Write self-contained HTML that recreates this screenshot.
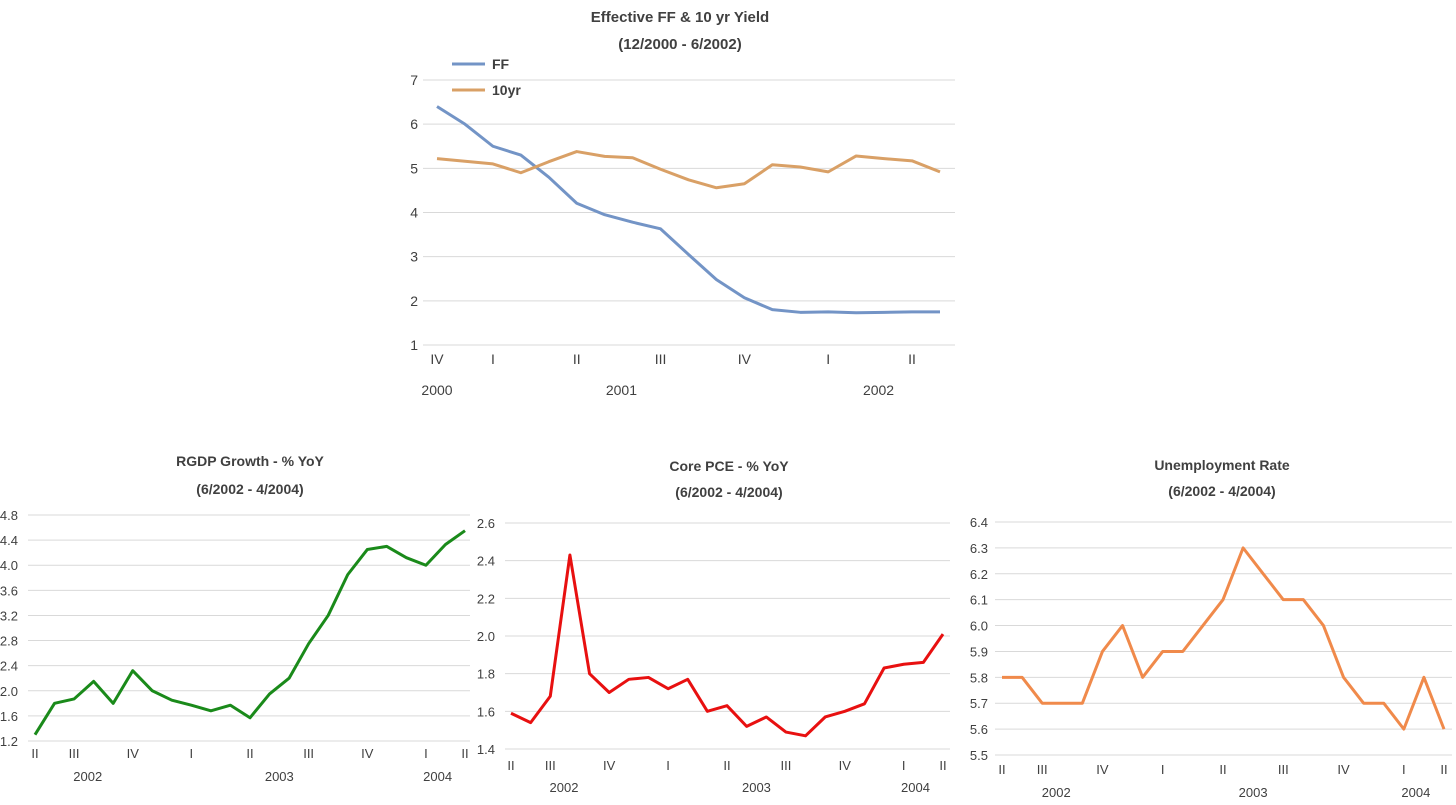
<!DOCTYPE html>
<html><head><meta charset="utf-8"><style>
body{margin:0;background:#fff;}
svg text{font-family:"Liberation Sans",sans-serif;fill:#404040;}
</style></head><body>
<svg id="s" width="1456" height="800" xmlns="http://www.w3.org/2000/svg">
<text x="680" y="22" text-anchor="middle" font-size="15" font-weight="bold" fill="#222">Effective FF &amp; 10 yr Yield</text>
<text x="680" y="49" text-anchor="middle" font-size="15" font-weight="bold" fill="#222">(12/2000 - 6/2002)</text>
<line x1="452" y1="64" x2="485" y2="64" stroke="#7394c6" stroke-width="3"/>
<text x="492" y="69" font-size="14" font-weight="bold" fill="#222">FF</text>
<line x1="452" y1="90" x2="485" y2="90" stroke="#d9a066" stroke-width="3"/>
<text x="492" y="95" font-size="14" font-weight="bold" fill="#222">10yr</text>
</svg>
<script>
const ffValues=[6.4,6.0,5.5,5.3,4.8,4.21,3.95,3.78,3.63,3.05,2.48,2.07,1.8,1.74,1.75,1.73,1.74,1.75,1.75];
const tenYrValues=[5.22,5.16,5.1,4.9,5.15,5.38,5.27,5.24,4.98,4.74,4.56,4.65,5.08,5.03,4.92,5.28,5.22,5.17,4.92];
const topYTicks=[1,2,3,4,5,6,7];
const rgdpValues=[1.3,1.8,1.87,2.15,1.8,2.32,2.0,1.85,1.77,1.68,1.77,1.57,1.95,2.2,2.75,3.2,3.85,4.25,4.3,4.12,4.0,4.33,4.55];
const rgdpYTicks=[1.2,1.6,2.0,2.4,2.8,3.2,3.6,4.0,4.4,4.8];
const pceValues=[1.59,1.54,1.68,2.43,1.8,1.7,1.77,1.78,1.72,1.77,1.6,1.63,1.52,1.57,1.49,1.47,1.57,1.6,1.64,1.83,1.85,1.86,2.01];
const pceYTicks=[1.4,1.6,1.8,2.0,2.2,2.4,2.6];
const unempValues=[5.8,5.8,5.7,5.7,5.7,5.9,6.0,5.8,5.9,5.9,6.0,6.1,6.3,6.2,6.1,6.1,6.0,5.8,5.7,5.7,5.6,5.8,5.6];
const unempYTicks=[5.5,5.6,5.7,5.8,5.9,6.0,6.1,6.2,6.3,6.4];
const topQuarters=["IV","I","II","III","IV","I","II"];
const topQuarterIdx=[0,2,5,8,11,14,17];
const topYears=["2000","2001","2002"];
const topYearIdx=[0,6.6,15.8];
const botQuarters=["II","III","IV","I","II","III","IV","I","II"];
const botQuarterIdx=[0,2,5,8,11,14,17,20,22];
const botYears=["2002","2003","2004"];
const botYearIdx=[2.7,12.5,20.6];

const svg=document.getElementById('s');
const NS='http://www.w3.org/2000/svg';
function mk(tag,attrs){const e=document.createElementNS(NS,tag);for(const k in attrs)e.setAttribute(k,attrs[k]);svg.appendChild(e);return e;}

function chart(cfg){
  const xs=i=>cfg.x0+(cfg.x1-cfg.x0)*i/(cfg.n-1);
  const ys=v=>cfg.yB+(cfg.yT-cfg.yB)*(v-cfg.yMin)/(cfg.yMax-cfg.yMin);
  cfg.ticks.forEach(t=>{
    const g=mk('line',{x1:cfg.gx0,x2:cfg.gx1,y1:ys(t),y2:ys(t),stroke:'#d9d9d9','stroke-width':1});
    
    
    const tx=mk('text',{x:cfg.tickX,y:ys(t)+5,'font-size':cfg.fs,'text-anchor':cfg.tickAnchor});
    tx.textContent=cfg.dec?t.toFixed(1):String(t);
    
    
  });
  cfg.qLabels.forEach((q,k)=>{
    const tx=mk('text',{x:xs(cfg.qIdx[k]),y:cfg.qY,'font-size':cfg.fs,'text-anchor':'middle'});
    tx.textContent=q;
    
    
  });
  cfg.yLabels.forEach((q,k)=>{
    const tx=mk('text',{x:xs(cfg.yIdx[k]),y:cfg.yrY,'font-size':cfg.fs,'text-anchor':'middle'});
    tx.textContent=q;
    
    
  });
  cfg.series.forEach(s=>{
    const p=mk('polyline',{points:s.v.map((v,i)=>xs(i)+','+ys(v)).join(' '),fill:'none',stroke:s.c,'stroke-width':3,'stroke-linejoin':'round'});
    
    
  });
  if(cfg.title){
    cfg.title.forEach((t,k)=>{
      const tx=mk('text',{x:cfg.tcx,y:cfg.tY[k],'font-size':14,'font-weight':'bold','text-anchor':'middle',fill:'#222'});
      tx.textContent=t;
      
      
    });
  }
}
chart({x0:437,x1:940,n:19,yB:345,yT:80,yMin:1,yMax:7,ticks:topYTicks,gx0:423,gx1:955,tickX:418,tickAnchor:'end',fs:14,dec:false,
 qLabels:topQuarters,qIdx:topQuarterIdx,qY:364,yLabels:topYears,yIdx:topYearIdx,yrY:395,
 series:[{v:ffValues,c:'#7394c6',name:'ff-line'},{v:tenYrValues,c:'#d9a066',name:'10yr-line'}]});
chart({x0:35,x1:465,n:23,yB:741,yT:515,yMin:1.2,yMax:4.8,ticks:rgdpYTicks,gx0:28,gx1:470,tickX:18,tickAnchor:'end',fs:13,dec:true,
 qLabels:botQuarters,qIdx:botQuarterIdx,qY:758,yLabels:botYears,yIdx:botYearIdx,yrY:781,
 series:[{v:rgdpValues,c:'#1a8a1a',name:'rgdp-line'}],title:['RGDP Growth - % YoY','(6/2002 - 4/2004)'],tcx:250,tY:[466,494]});
chart({x0:511,x1:943,n:23,yB:749,yT:523,yMin:1.4,yMax:2.6,ticks:pceYTicks,gx0:505,gx1:950,tickX:495,tickAnchor:'end',fs:13,dec:true,
 qLabels:botQuarters,qIdx:botQuarterIdx,qY:770,yLabels:botYears,yIdx:botYearIdx,yrY:792,
 series:[{v:pceValues,c:'#e81010',name:'core-pce-line'}],title:['Core PCE - % YoY','(6/2002 - 4/2004)'],tcx:729,tY:[471,497]});
chart({x0:1002,x1:1444,n:23,yB:755,yT:522,yMin:5.5,yMax:6.4,ticks:unempYTicks,gx0:995,gx1:1452,tickX:988,tickAnchor:'end',fs:13,dec:true,
 qLabels:botQuarters,qIdx:botQuarterIdx,qY:774,yLabels:botYears,yIdx:botYearIdx,yrY:797,
 series:[{v:unempValues,c:'#f08a4b',name:'unemployment-line'}],title:['Unemployment Rate','(6/2002 - 4/2004)'],tcx:1222,tY:[470,496]});
</script>
</body></html>
